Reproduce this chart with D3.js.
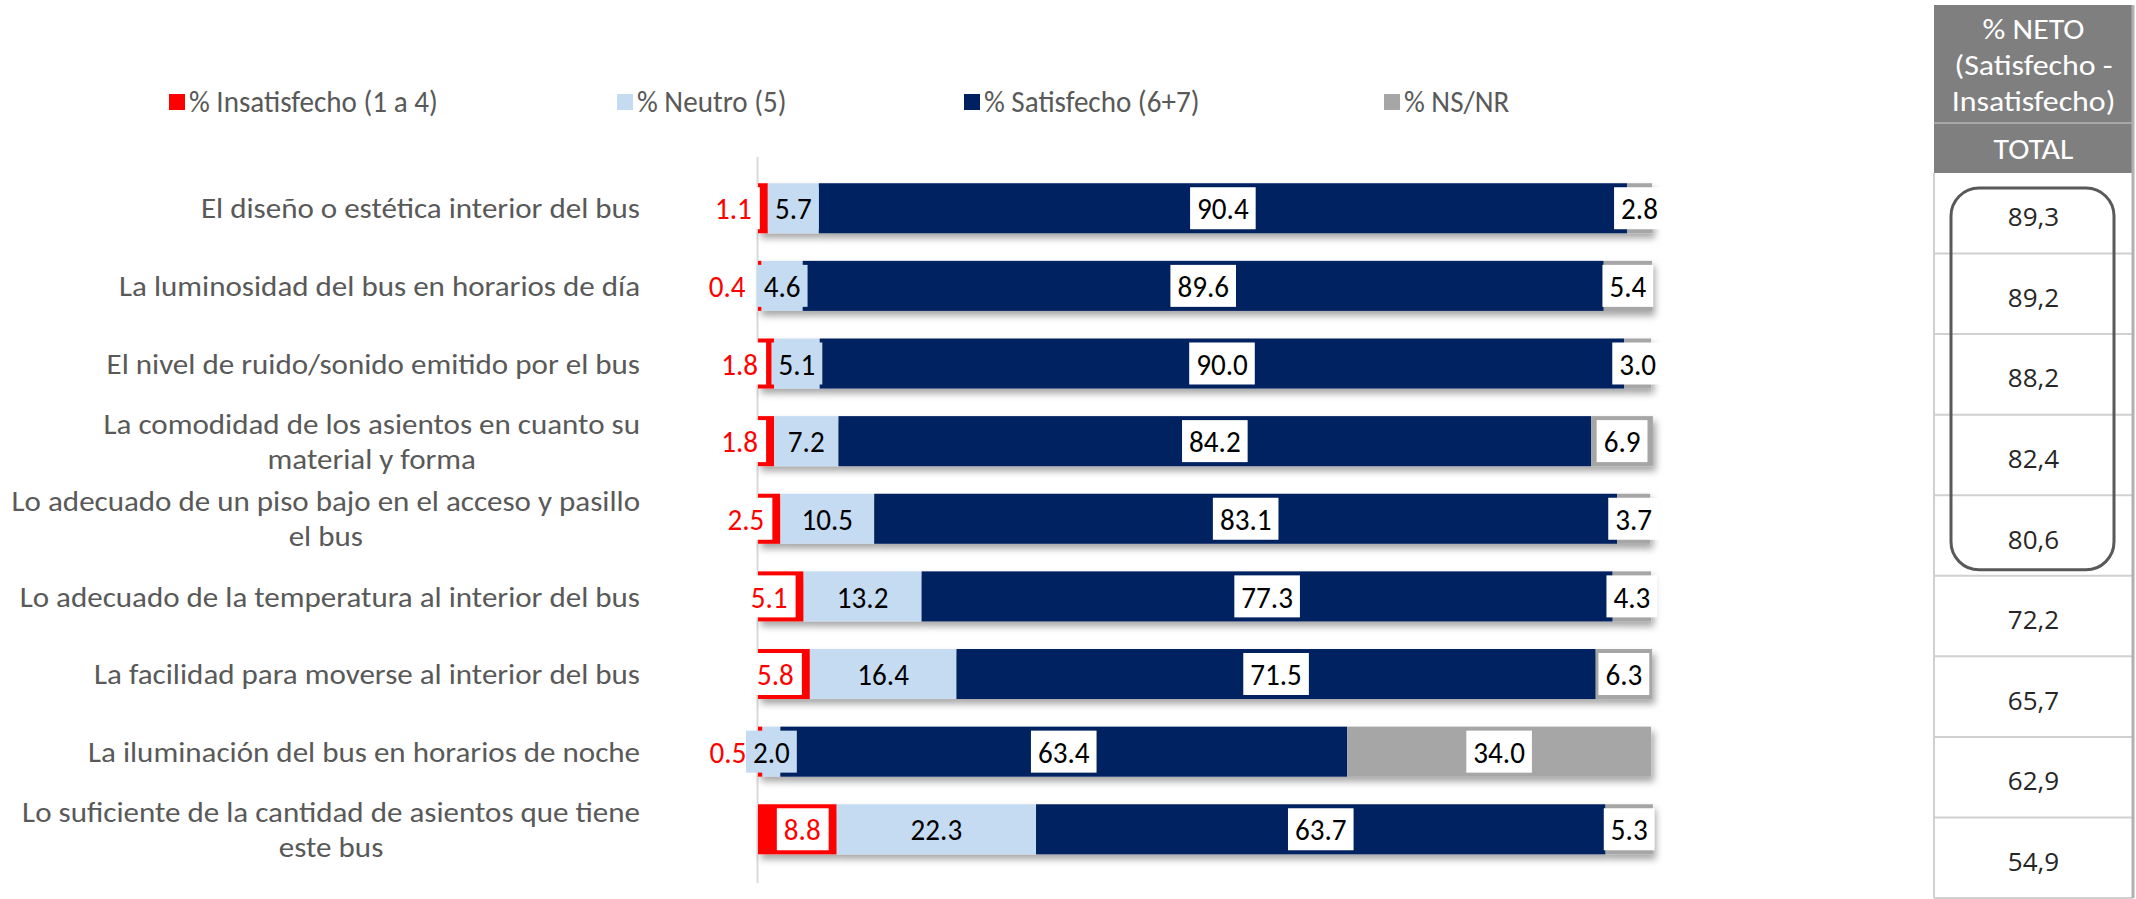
<!DOCTYPE html>
<html>
<head>
<meta charset="utf-8">
<script src="https://cdn.jsdelivr.net/npm/d3@7"></script>
<style>
  html, body { margin: 0; padding: 0; background: #fff; }
  svg { display: block; }
</style>
</head>
<body>
<svg id="chart"></svg>
<script>
const categories = [
  "El diseño o estética interior del bus",
  "La luminosidad del bus en horarios de día",
  "El nivel de ruido/sonido emitido por el bus",
  "La comodidad de los asientos en cuanto su\nmaterial y forma",
  "Lo adecuado de un piso bajo en el acceso y pasillo\nel bus",
  "Lo adecuado de la temperatura al interior del bus",
  "La facilidad para moverse al interior del bus",
  "La iluminación del bus en horarios de noche",
  "Lo suficiente de la cantidad de asientos que tiene\neste bus"
];
const seriesNames = ["% Insatisfecho (1 a 4)", "% Neutro (5)", "% Satisfecho (6+7)", "% NS/NR"];
const insatisfecho = [1.1, 0.4, 1.8, 1.8, 2.5, 5.1, 5.8, 0.5, 8.8];
const neutro = [5.7, 4.6, 5.1, 7.2, 10.5, 13.2, 16.4, 2.0, 22.3];
const satisfecho = [90.4, 89.6, 90.0, 84.2, 83.1, 77.3, 71.5, 63.4, 63.7];
const nsnr = [2.8, 5.4, 3.0, 6.9, 3.7, 4.3, 6.3, 34.0, 5.3];
const neto = [89.3, 89.2, 88.2, 82.4, 80.6, 72.2, 65.7, 62.9, 54.9];
const netoHeader = ["% NETO", "(Satisfecho -", "Insatisfecho)"];
const netoColumn = "TOTAL";
const boxedRows = 5;

const colors = ["#ff0000", "#c5dbf2", "#002060", "#a6a6a6"];
const labelFill = ["#ff0000", "#000000", "#000000", "#000000"];
const boxFill = ["#ffffff", "#c5dbf2", "#ffffff", "#ffffff"];

const W = 2136, H = 899;
const font = "Calibri, Carlito, Lato, sans-serif";
const squeeze = 0.97;

const svg = d3.select("#chart").attr("width", W).attr("height", H);

const defs = svg.append("defs");
defs.append("filter").attr("id", "shadow")
  .attr("x", "-5%").attr("y", "-30%").attr("width", "110%").attr("height", "180%")
  .append("feDropShadow")
  .attr("dx", 3).attr("dy", 5).attr("stdDeviation", 3.5)
  .attr("flood-color", "#000").attr("flood-opacity", 0.35);

const rows = categories.map((c, i) => ({
  cat: c, v0: insatisfecho[i], v1: neutro[i], v2: satisfecho[i], v3: nsnr[i]
}));
const keys = ["v0", "v1", "v2", "v3"];
const stacked = d3.stack().keys(keys)(rows);

const x = d3.scaleLinear().domain([0, 100]).range([758, 1652]);
const y = d3.scaleBand().domain(categories).range([155.6, 881.9]).padding(0.356);

// squeezed text helper
function addText(g, tx, ty, str, opts) {
  const sx = opts.sx || squeeze;
  const t = g.append("text")
    .attr("transform", `translate(${tx},${ty}) scale(${sx},1)`)
    .attr("font-family", opts.family || font)
    .attr("font-size", opts.size)
    .attr("font-weight", opts.weight || 400)
    .attr("fill", opts.fill)
    .attr("text-anchor", opts.anchor || "start")
    .attr("dominant-baseline", "central")
    .text(str);
  return t;
}

// axis line
svg.append("line")
  .attr("x1", x(0) - 0.5).attr("x2", x(0) - 0.5)
  .attr("y1", 157).attr("y2", 883)
  .attr("stroke", "#d9d9d9").attr("stroke-width", 2);

// bars
const barG = svg.append("g").attr("filter", "url(#shadow)");
stacked.forEach((s, si) => {
  barG.selectAll(null).data(s).enter().append("rect")
    .attr("x", d => x(d[0]))
    .attr("y", d => y(d.data.cat))
    .attr("width", d => x(d[1]) - x(d[0]))
    .attr("height", y.bandwidth())
    .attr("fill", colors[si]);
});

// data labels
const labG = svg.append("g");
const boxH = 42;
stacked.forEach((s, si) => {
  s.forEach(d => {
    const cy = y(d.data.cat) + y.bandwidth() / 2;
    const g = labG.append("g");
    const box = g.append("rect").attr("fill", boxFill[si]);
    const str = d3.format(".1f")(d.data[keys[si]]);
    let t, tw;
    if (si === 0) {
      // inside end
      const tEnd = x(d[1]) - 16;
      t = addText(g, tEnd, cy + 1, str, { size: 30, fill: labelFill[si], anchor: "end" });
      tw = t.node().getComputedTextLength() * squeeze;
      box.attr("x", tEnd - tw - 7).attr("width", tw + 15);
    } else {
      const cx = (x(d[0]) + x(d[1])) / 2;
      t = addText(g, cx, cy + 1, str, { size: 30, fill: labelFill[si], anchor: "middle" });
      tw = t.node().getComputedTextLength() * squeeze;
      box.attr("x", cx - tw / 2 - 7).attr("width", tw + 14);
    }
    box.attr("y", cy - boxH / 2).attr("height", boxH);
  });
});

// category labels
const catG = svg.append("g");
const lineGap = 35;
categories.forEach(c => {
  const lines = c.split("\n");
  const cy = y(c) + y.bandwidth() / 2;
  const right = 640;
  const opts = { size: 29, sx: 1.07, fill: "#595959", weight: 300 };
  if (lines.length === 1) {
    addText(catG, right, cy, c, Object.assign({ anchor: "end" }, opts));
  } else {
    const ts = lines.map((l, li) => addText(catG, 0, cy + (li - (lines.length - 1) / 2) * lineGap, l,
      Object.assign({ anchor: "middle" }, opts)));
    const maxW = d3.max(ts, t => t.node().getComputedTextLength()) * opts.sx;
    ts.forEach((t, li) => t.attr("transform",
      `translate(${right - maxW / 2},${cy + (li - (lines.length - 1) / 2) * lineGap}) scale(${opts.sx},1)`));
  }
});

// legend
const legendX = [169, 617, 964, 1384];
const legG = svg.append("g");
seriesNames.forEach((n, i) => {
  legG.append("rect").attr("x", legendX[i]).attr("y", 94).attr("width", 16).attr("height", 16)
    .attr("fill", colors[i]);
  addText(legG, legendX[i] + 20, 102, n, { size: 30, fill: "#595959", weight: 300 });
});

// net table
const tx0 = 1934, tx1 = 2133;
const ty = d3.scaleBand().domain(categories).range([173, 898]).padding(0);
const tabG = svg.append("g");
tabG.append("rect").attr("x", tx0).attr("y", 5).attr("width", tx1 - tx0).attr("height", 168)
  .attr("fill", "#7f7f7f");
tabG.append("line").attr("x1", tx0).attr("x2", tx1).attr("y1", 123).attr("y2", 123)
  .attr("stroke", "#a6a6a6").attr("stroke-width", 2);
netoHeader.forEach((h, i) => {
  addText(tabG, (tx0 + tx1) / 2, 29 + i * 36, h, { size: 29, sx: 1.1, fill: "#ffffff", anchor: "middle" });
});
addText(tabG, (tx0 + tx1) / 2, 149, netoColumn, { size: 29, sx: 1.1, fill: "#ffffff", anchor: "middle" });

categories.forEach((c, i) => {
  tabG.append("line").attr("x1", tx0).attr("x2", tx1)
    .attr("y1", ty(c) + ty.bandwidth()).attr("y2", ty(c) + ty.bandwidth())
    .attr("stroke", "#d0d0d0").attr("stroke-width", 2);
  tabG.append("text")
    .attr("x", (tx0 + tx1) / 2).attr("y", ty(c) + ty.bandwidth() / 2 + 3)
    .attr("font-family", "'Open Sans', sans-serif").attr("font-size", 26)
    .attr("fill", "#262626").attr("text-anchor", "middle").attr("dominant-baseline", "central")
    .text(d3.format(".1f")(neto[i]).replace(".", ","));
});
tabG.append("line").attr("x1", tx0).attr("x2", tx0).attr("y1", 173).attr("y2", 898)
  .attr("stroke", "#d0d0d0").attr("stroke-width", 2);
tabG.append("line").attr("x1", tx1).attr("x2", tx1).attr("y1", 5).attr("y2", 898)
  .attr("stroke", "#b0b0b0").attr("stroke-width", 3);

// rounded highlight around the top rows
tabG.append("rect")
  .attr("x", 1951).attr("y", ty(categories[0]) + 15)
  .attr("width", 163)
  .attr("height", ty(categories[boxedRows - 1]) + ty.bandwidth() - 6 - (ty(categories[0]) + 15))
  .attr("rx", 28).attr("ry", 28)
  .attr("fill", "none").attr("stroke", "#595959").attr("stroke-width", 3);
</script>
</body>
</html>
